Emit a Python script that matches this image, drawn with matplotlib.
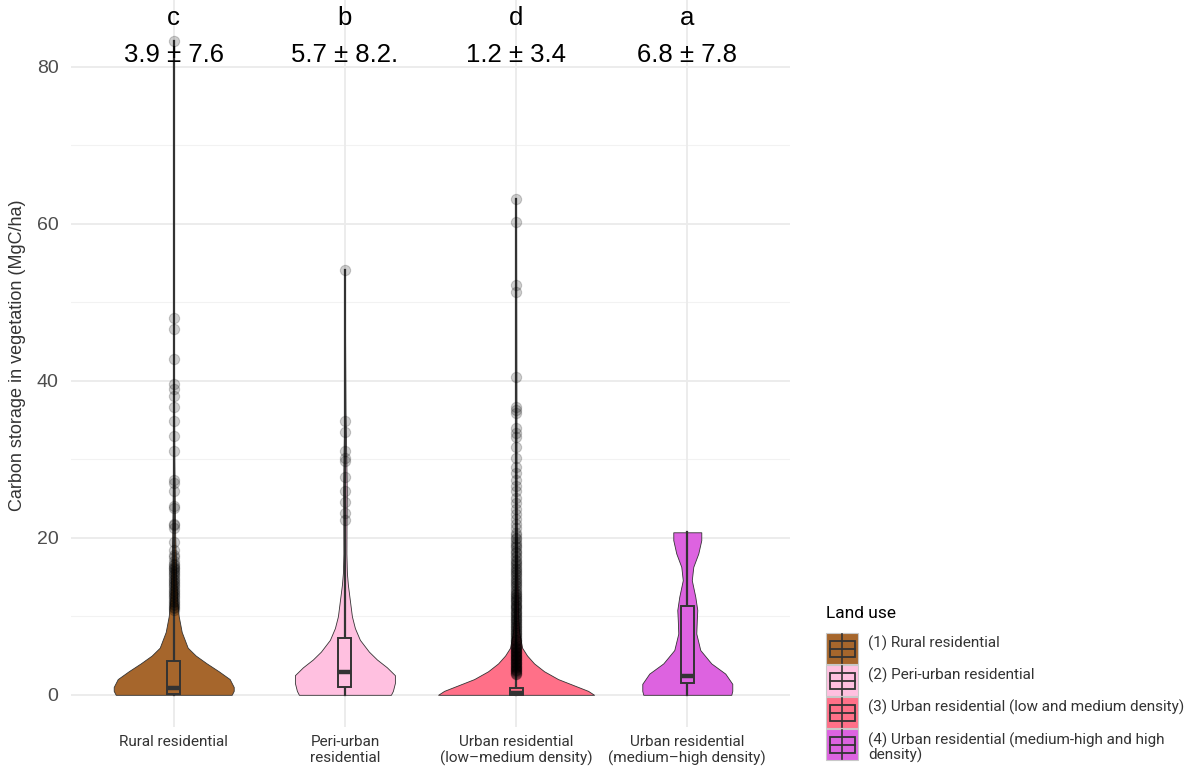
import matplotlib.pyplot as plt
import matplotlib.patches as mpatches
import numpy as np

# groups, colours and summary stats
groups = ["Rural residential", "Peri-urban\nresidential",
          "Urban residential\n(low\u2013medium density)",
          "Urban residential\n(medium\u2013high density)"]
legend_labels = ["(1) Rural residential", "(2) Peri-urban residential",
                 "(3) Urban residential (low and medium density)",
                 "(4) Urban residential (medium-high and high\ndensity)"]
colors = ["#A6662C", "#FFC0E0", "#FF7088", "#DD63E0"]
letters = ["c", "b", "d", "a"]
mean_sd = ["3.9 \u00b1 7.6", "5.7 \u00b1 8.2.", "1.2 \u00b1 3.4", "6.8 \u00b1 7.8"]

# violin outlines: value (MgC/ha) -> half width (px)
rural_y = [0, 0.5, 1, 2, 3, 4, 5, 6, 8, 10, 12, 15, 20, 25, 30, 40, 83.3]
rural_w = [58, 60, 60, 56, 45, 33, 22, 14, 8, 5, 3.5, 2.5, 1.5, 1, 0.6, 0.3, 0]
peri_y = [0, 0.5, 1.5, 2.5, 3.5, 4.5, 5.5, 7, 8.5, 10, 12, 14, 15.5, 18, 22, 26, 30, 36, 45, 54.1]
peri_w = [46, 48, 50, 50, 42, 32, 24, 15, 10, 7, 5, 3, 2, 1.5, 1.6, 1.8, 1.4, 0.6, 0.2, 0]
urb_y = [0, 0.5, 1, 1.5, 2, 3, 4, 5, 6, 8, 10, 15, 20, 30, 63.1]
urb_w = [78, 72, 62, 52, 42, 28, 18, 11, 6, 3, 2, 1.2, 0.8, 0.4, 0]
dense_y = [0, 0.5, 1.4, 2.7, 4, 5.7, 7.8, 9.5, 10.8, 12.5, 14.6, 16.3, 18, 19.7, 20.7]
dense_w = [44, 45, 45, 38, 24, 13, 9, 9.5, 10, 8, 4.5, 6, 11, 14, 14]
profiles = [(rural_y, rural_w), (peri_y, peri_w), (urb_y, urb_w), (dense_y, dense_w)]

# box stats: q1, median, q3, max
q1 = [0.1, 1.0, 0.0, 1.5]
med = [0.9, 2.9, 0.2, 2.4]
q3 = [4.3, 7.2, 0.9, 11.3]
vmax = [83.3, 54.1, 63.1, 20.7]

outliers = [
    [83.3, 48.0, 46.6, 42.8, 39.6, 39.0, 38.0, 36.7, 34.9, 33.0, 31.1, 27.4, 27.0,
     26.0, 24.1, 23.8, 21.8, 21.6, 21.3, 19.5, 18.5, 17.8, 17.5, 17.0, 16.7, 16.5,
     16.3, 16.2, 16.0, 15.8, 15.6, 15.4, 15.2, 15.0, 14.8, 14.6, 14.4, 14.2, 14.0,
     13.8, 13.6, 13.4, 13.2, 13.0, 12.8, 12.6, 12.4, 12.2, 12.0, 11.8, 11.6, 11.4,
     11.2, 11.0, 10.8],
    [54.1, 34.9, 33.5, 31.1, 30.2, 29.8, 27.8, 25.9, 24.5, 23.1, 22.3],
    [63.1, 60.2, 52.2, 51.3, 40.5, 36.7, 36.3, 35.9, 34.0, 33.3, 32.9, 31.6, 30.2,
     29.0, 28.2, 27.4, 26.6, 25.9, 25.1, 24.4, 23.7, 23.0, 22.4, 21.8, 21.2, 20.6,
     20.3, 20.0, 19.8, 19.5, 19.2, 19.0, 18.8, 18.5, 18.2, 18.0, 17.7, 17.5, 17.2,
     17.0, 16.8, 16.6, 16.4, 16.2, 16.0, 15.8, 15.6, 15.4, 15.2, 15.0, 14.8, 14.6,
     14.4, 14.2, 14.0, 13.8, 13.6, 13.4, 13.2, 13.0, 12.8, 12.7, 12.5, 12.4, 12.2,
     12.1, 11.9, 11.8, 11.6, 11.5, 11.3, 11.2, 11.0, 10.9, 10.7, 10.6, 10.4, 10.3,
     10.1, 10.0, 9.8, 9.7, 9.5, 9.4, 9.2, 9.1, 8.9, 8.8, 8.6, 8.5, 8.3, 8.2, 8.0,
     7.9, 7.7, 7.6, 7.4, 7.3, 7.1, 7.0, 6.9, 6.8, 6.6, 6.5, 6.4, 6.2, 6.1, 6.0,
     5.9, 5.8, 5.7, 5.6, 5.5, 5.4, 5.3, 5.2, 5.1, 5.0, 4.9, 4.8, 4.7, 4.6, 4.5,
     4.4, 4.3, 4.2, 4.1, 4.0, 3.9, 3.8, 3.7, 3.6, 3.5, 3.4, 3.3, 3.2, 3.1, 3.0,
     2.9, 2.8, 2.7, 2.6],
    [],
]

px_per_unit = 171.2  # x data unit in pixels
line_c = "#333333"

fig = plt.figure(figsize=(11.97, 7.67), dpi=100)
ax = fig.add_axes([71 / 1197, 40 / 767, 719 / 1197, 727 / 767])
ax.set_xlim(0.4, 4.6)
ax.set_ylim(-4.1, 88.5)

# grid like theme_minimal
for v in [10, 30, 50, 70]:
    ax.axhline(v, color="#F2F2F2", lw=0.8, zorder=0)
for v in [0, 20, 40, 60, 80]:
    ax.axhline(v, color="#EBEBEB", lw=1.3, zorder=0)
for i in range(4):
    ax.axvline(i + 1, color="#EBEBEB", lw=1.3, zorder=0)

for i in range(4):
    x = i + 1
    ys, ws = profiles[i]
    hw = np.array(ws) / px_per_unit
    ax.fill_betweenx(ys, x - hw, x + hw, facecolor=colors[i],
                     edgecolor=line_c, lw=0.6, zorder=2)
    # whisker to the max
    ax.plot([x, x], [0, vmax[i]], color=line_c, lw=1.6, zorder=3)
    bw = 6.5 / px_per_unit
    ax.add_patch(mpatches.Rectangle((x - bw, q1[i]), 2 * bw, q3[i] - q1[i],
                                    facecolor=colors[i], edgecolor=line_c,
                                    lw=1.4, zorder=4))
    ax.plot([x - bw, x + bw], [med[i], med[i]], color=line_c, lw=3.2,
            solid_capstyle="butt", zorder=5)
    if outliers[i]:
        ax.scatter([x] * len(outliers[i]), outliers[i], s=55, facecolor="black",
                   edgecolor="black", alpha=0.19, lw=0.8, zorder=6)
    ax.text(x, 86.2, letters[i], ha="center", va="center", fontsize=18.5,
            family="Liberation Sans", color="black")
    ax.text(x, 81.5, mean_sd[i], ha="center", va="center", fontsize=18.5,
            family="Liberation Sans", color="black", zorder=7)

ax.set_yticks([0, 20, 40, 60, 80])
ax.set_yticklabels(["0", "20", "40", "60", "80"], family="Liberation Sans",
                   fontsize=14, color="#4D4D4D")
ax.set_xticks([1, 2, 3, 4])
ax.set_xticklabels(groups, family="Roboto", fontsize=11, color="#333333",
                   linespacing=1.15)
ax.tick_params(axis="y", length=0, pad=9)
ax.tick_params(axis="x", length=0, pad=6)
for s in ax.spines.values():
    s.set_visible(False)
fig.text(18 / 1197, 1 - 355 / 767, "Carbon storage in vegetation (MgC/ha)",
         rotation=90, ha="center", va="center", fontsize=13,
         family="Liberation Sans", color="#333333")

# legend drawn in pixel coordinates
lg = fig.add_axes([0, 0, 1, 1])
lg.set_xlim(0, 1197)
lg.set_ylim(767, 0)
lg.axis("off")
lg.text(826, 613, "Land use", ha="left", va="center", fontsize=12.5,
        family="Roboto", color="black")
key_top = [633, 665, 697, 729]
for i in range(4):
    t = key_top[i]
    lg.add_patch(mpatches.Rectangle((826, t), 32, 31, facecolor=colors[i],
                                    edgecolor="#C8C8C8", lw=0.8))
    lg.plot([842, 842], [t + 1, t + 30], color=line_c, lw=1.2)
    lg.add_patch(mpatches.Rectangle((829.5, t + 7.5), 25, 16, facecolor=colors[i],
                                    edgecolor=line_c, lw=1.3))
    lg.plot([829.5, 854.5], [t + 15.5, t + 15.5], color=line_c, lw=1.3)
    if i < 3:
        lg.text(868, t + 10, legend_labels[i], ha="left", va="center",
                fontsize=11, family="Roboto", color="#333333")
    else:
        lg.text(868, t + 4, legend_labels[i], ha="left", va="top",
                fontsize=11, family="Roboto", color="#333333", linespacing=0.95)

fig.savefig("out.png", dpi=100)
